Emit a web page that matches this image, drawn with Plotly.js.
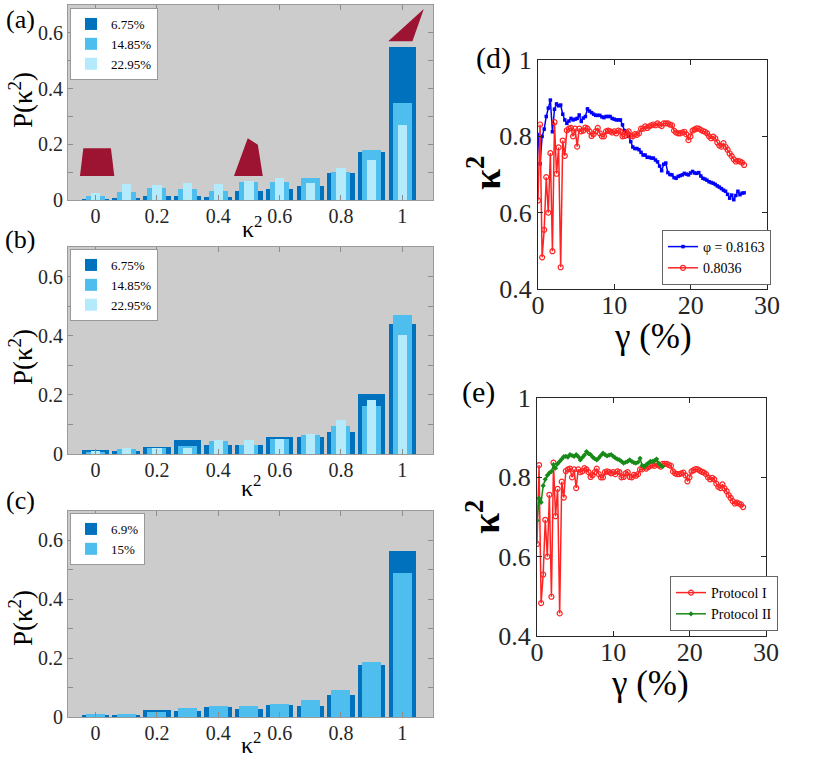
<!DOCTYPE html>
<html>
<head>
<meta charset="utf-8">
<script src="https://cdn.plot.ly/plotly-3.0.1.min.js"></script>
<style>
  html, body { margin: 0; padding: 0; background: #fff; }
  #chart { width: 830px; height: 759px; }
</style>
</head>
<body>
<div id="chart"></div>
<script>
// Histogram bins (kappa^2)
const kappaBins = [0, 0.1, 0.2, 0.3, 0.4, 0.5, 0.6, 0.7, 0.8, 0.9, 1];
const kappaTicks = [0, 0.2, 0.4, 0.6, 0.8, 1];

// Panel (a)
const pA675 = [0.004, 0.008, 0.016, 0.014, 0.012, 0.031, 0.040, 0.050, 0.096, 0.174, 0.548];
const pA1485 = [0.016, 0.029, 0.044, 0.038, 0.032, 0.064, 0.066, 0.079, 0.101, 0.178, 0.348];
const pA2295 = [0.026, 0.056, 0.054, 0.061, 0.056, 0.068, 0.080, 0.061, 0.116, 0.144, 0.270];

// Panel (b)
const pB675 = [0.013, 0.009, 0.023, 0.047, 0.032, 0.032, 0.057, 0.057, 0.075, 0.203, 0.441];
const pB1485 = [0.006, 0.016, 0.019, 0.027, 0.044, 0.032, 0.050, 0.064, 0.096, 0.164, 0.469];
const pB2295 = [0.009, 0.020, 0.020, 0.019, 0.047, 0.047, 0.050, 0.067, 0.114, 0.184, 0.404];

// Panel (c)
const pC69 = [0.008, 0.008, 0.023, 0.019, 0.034, 0.027, 0.040, 0.037, 0.076, 0.178, 0.563];
const pC15 = [0.009, 0.011, 0.017, 0.031, 0.037, 0.037, 0.045, 0.059, 0.092, 0.186, 0.491];

// Strain gamma (%) for panels (d) and (e)
const gamma = [0, 0.27, 0.54, 0.81, 1.08, 1.35, 1.62, 1.89, 2.16, 2.43, 2.7, 2.97, 3.24, 3.51, 3.78,
  4.05, 4.32, 4.59, 4.86, 5.13, 5.4, 5.67, 5.94, 6.21, 6.48, 6.75, 7.02, 7.29, 7.56, 7.83, 8.1,
  8.37, 8.64, 8.91, 9.18, 9.45, 9.72, 9.99, 10.26, 10.53, 10.8, 11.07, 11.34, 11.61, 11.88, 12.15,
  12.42, 12.69, 12.96, 13.23, 13.5, 13.77, 14.04, 14.31, 14.58, 14.85, 15.12, 15.39, 15.66, 15.93,
  16.2, 16.47, 16.74, 17.01, 17.28, 17.55, 17.82, 18.09, 18.36, 18.63, 18.9, 19.17, 19.44, 19.71,
  19.98, 20.25, 20.52, 20.79, 21.06, 21.33, 21.6, 21.87, 22.14, 22.41, 22.68, 22.95, 23.22, 23.49,
  23.76, 24.03, 24.3, 24.57, 24.84, 25.11, 25.38, 25.65, 25.92, 26.19, 26.46, 26.73, 27];

// phi = 0.8163 (blue)
const kappaPhi8163 = [0.805, 0.728, 0.800, 0.819, 0.852, 0.874, 0.895, 0.812, 0.871, 0.885, 0.880,
  0.882, 0.858, 0.843, 0.834, 0.840, 0.847, 0.843, 0.845, 0.847, 0.856, 0.839, 0.848, 0.852, 0.872,
  0.866, 0.862, 0.858, 0.855, 0.855, 0.855, 0.851, 0.849, 0.852, 0.852, 0.852, 0.847, 0.845, 0.843,
  0.843, 0.843, 0.830, 0.815, 0.808, 0.800, 0.786, 0.772, 0.768, 0.768, 0.765, 0.758, 0.751, 0.751,
  0.745, 0.745, 0.743, 0.743, 0.738, 0.733, 0.722, 0.710, 0.727, 0.730, 0.705, 0.700, 0.699, 0.692,
  0.690, 0.695, 0.697, 0.699, 0.703, 0.701, 0.699, 0.704, 0.708, 0.704, 0.703, 0.705, 0.696, 0.690,
  0.688, 0.685, 0.681, 0.679, 0.677, 0.674, 0.670, 0.667, 0.663, 0.659, 0.656, 0.648, 0.638, 0.646,
  0.634, 0.645, 0.656, 0.647, 0.651, 0.652];

// phi = 0.8036 / Protocol I (red)
const kappaPhi8036 = [0.632, 0.831, 0.483, 0.555, 0.693, 0.600, 0.756, 0.499, 0.837, 0.702, 0.771,
  0.457, 0.789, 0.749, 0.816, 0.820, 0.822, 0.800, 0.820, 0.773, 0.820, 0.813, 0.815, 0.823, 0.820,
  0.813, 0.801, 0.806, 0.813, 0.822, 0.808, 0.800, 0.800, 0.813, 0.815, 0.813, 0.810, 0.813, 0.808,
  0.815, 0.813, 0.800, 0.801, 0.810, 0.813, 0.801, 0.800, 0.806, 0.804, 0.808, 0.820, 0.820, 0.826,
  0.822, 0.826, 0.829, 0.831, 0.829, 0.834, 0.830, 0.827, 0.834, 0.834, 0.834, 0.831, 0.829, 0.815,
  0.810, 0.808, 0.808, 0.810, 0.812, 0.805, 0.790, 0.800, 0.815, 0.818, 0.821, 0.820, 0.817, 0.814,
  0.812, 0.808, 0.800, 0.795, 0.799, 0.795, 0.784, 0.776, 0.773, 0.782, 0.772, 0.765, 0.755, 0.748,
  0.740, 0.734, 0.736, 0.734, 0.731, 0.725];

// Protocol II (green)
const kappaProtocol2 = [0.691, 0.747, 0.737, 0.779, 0.795, 0.805, 0.811, 0.815, 0.832, 0.823, 0.834,
  0.840, 0.846, 0.852, 0.853, 0.851, 0.857, 0.855, 0.853, 0.857, 0.852, 0.844, 0.850, 0.856, 0.865,
  0.860, 0.857, 0.851, 0.847, 0.844, 0.849, 0.855, 0.861, 0.857, 0.854, 0.856, 0.857, 0.853, 0.849,
  0.846, 0.844, 0.840, 0.836, 0.838, 0.840, 0.844, 0.840, 0.837, 0.836, 0.838, 0.848, 0.830, 0.827,
  0.832, 0.836, 0.840, 0.840, 0.842, 0.846, 0.836, 0.830, 0.827];

// Red marker shapes drawn over panel (a)
const flagX = [[-0.040, 0.050, 0.061, -0.051], [0.496, 0.529, 0.545, 0.451], [0.954, 1.033, 1.070]];
const flagY = [[0.186, 0.186, 0.086, 0.086], [0.222, 0.198, 0.086, 0.086], [0.570, 0.570, 0.686]];

const serif = "'Liberation Serif', 'Times New Roman', serif";
const dark = '#0072BD';
const mid = '#4DBEEE';
const light = '#B3EBFC';
const W = 830;
const H = 759;

// pixel box -> paper domain
function domX(x0, x1) { return [x0 / W, x1 / W]; }
function domY(top, bottom) { return [1 - bottom / H, 1 - top / H]; }

function barTrace(y, name, color, width, axis, legend) {
  return {
    type: 'bar', x: kappaBins, y, name, width,
    marker: { color, line: { width: 0 } },
    xaxis: 'x' + axis, yaxis: 'y' + axis, legend
  };
}

const data = [
  barTrace(pA675, '6.75%', dark, 0.09, '', 'legend'),
  barTrace(pA1485, '14.85%', mid, 0.062, '', 'legend'),
  barTrace(pA2295, '22.95%', light, 0.03, '', 'legend'),
  barTrace(pB675, '6.75%', dark, 0.09, '2', 'legend2'),
  barTrace(pB1485, '14.85%', mid, 0.062, '2', 'legend2'),
  barTrace(pB2295, '22.95%', light, 0.03, '2', 'legend2'),
  barTrace(pC69, '6.9%', dark, 0.09, '3', 'legend3'),
  barTrace(pC15, '15%', mid, 0.062, '3', 'legend3'),
  {
    type: 'scatter', mode: 'lines+markers', x: gamma, y: kappaPhi8163, name: 'φ = 0.8163',
    line: { color: '#0000FF', width: 1.5 }, marker: { symbol: 'square', size: 3.5, color: '#0000FF' },
    xaxis: 'x4', yaxis: 'y4', legend: 'legend4'
  },
  {
    type: 'scatter', mode: 'lines+markers', x: gamma, y: kappaPhi8036, name: '0.8036',
    line: { color: '#FF2424', width: 1.5 }, marker: { symbol: 'circle-open', size: 5, color: '#FF2424', line: { width: 1.2 } },
    xaxis: 'x4', yaxis: 'y4', legend: 'legend4'
  },
  {
    type: 'scatter', mode: 'lines+markers', x: gamma, y: kappaPhi8036, name: 'Protocol I',
    line: { color: '#FF2424', width: 1.5 }, marker: { symbol: 'circle-open', size: 5, color: '#FF2424', line: { width: 1.2 } },
    xaxis: 'x5', yaxis: 'y5', legend: 'legend5'
  },
  {
    type: 'scatter', mode: 'lines+markers', x: gamma.slice(0, kappaProtocol2.length), y: kappaProtocol2, name: 'Protocol II',
    line: { color: '#178A17', width: 1.5 }, marker: { symbol: 'diamond', size: 4, color: '#178A17' },
    xaxis: 'x5', yaxis: 'y5', legend: 'legend5'
  }
];

function histX(domain, anchor) {
  return {
    domain, anchor, range: [-0.09, 1.1], tickvals: kappaTicks, ticktext: ['0', '0.2', '0.4', '0.6', '0.8', '1'],
    ticks: 'inside', ticklen: 5, tickcolor: '#8c8c8c', mirror: 'ticks', showline: true,
    linecolor: '#9a9a9a', linewidth: 1, showgrid: false, zeroline: false, ticklabelstandoff: -2,
    tickfont: { family: serif, size: 20, color: '#262626' }
  };
}
function histY(domain, anchor) {
  return {
    domain, anchor, range: [0, 0.7], tick0: 0, dtick: 0.2,
    ticks: 'inside', ticklen: 5, tickcolor: '#8c8c8c', mirror: 'ticks', showline: true,
    linecolor: '#9a9a9a', linewidth: 1, showgrid: false, zeroline: false,
    minor: { dtick: 0.1, ticks: 'inside', ticklen: 5, tickcolor: '#8c8c8c', showgrid: false },
    tickfont: { family: serif, size: 20, color: '#262626' }
  };
}
function lineX(domain, anchor) {
  return {
    domain, anchor, range: [0, 30], dtick: 10, ticks: 'inside', ticklen: 5, tickcolor: '#262626',
    mirror: 'ticks', showline: true, linecolor: '#262626', linewidth: 1, showgrid: false, zeroline: false,
    ticklabelstandoff: -7, tickfont: { family: serif, size: 26, color: '#262626' }
  };
}
function lineY(domain, anchor) {
  return {
    domain, anchor, range: [0.4, 1], dtick: 0.2, tick0: 0.4, ticks: 'inside', ticklen: 5, tickcolor: '#262626',
    mirror: 'ticks', showline: true, linecolor: '#262626', linewidth: 1, showgrid: false, zeroline: false,
    tickfont: { family: serif, size: 26, color: '#262626' }
  };
}

// legends placed by their top-left (histograms) or bottom-left (line panels) corner
function legendAt(px, py, size, border, anchorY) {
  return {
    x: px / W, y: 1 - py / H, xanchor: 'left', yanchor: anchorY,
    bgcolor: '#ffffff', bordercolor: border, borderwidth: 1,
    font: { family: serif, size, color: '#000' }, itemwidth: 30, tracegroupgap: 0
  };
}

function note(text, px, py, size, extra) {
  return Object.assign({
    text, x: px / W, y: 1 - py / H, xref: 'paper', yref: 'paper', showarrow: false,
    xanchor: 'center', yanchor: 'middle', font: { family: serif, size, color: '#000' }
  }, extra || {});
}

// gray plot background for the histogram panels
const shapes = ['', '2', '3'].map(a => ({
  type: 'rect', xref: 'x' + a + ' domain', yref: 'y' + a + ' domain', x0: 0, x1: 1, y0: 0, y1: 1,
  fillcolor: '#CCCCCC', line: { width: 0 }, layer: 'below'
}));
flagX.forEach((xs, i) => {
  const path = xs.map((x, j) => (j ? 'L' : 'M') + x + ',' + flagY[i][j]).join(' ') + ' Z';
  shapes.push({ type: 'path', xref: 'x', yref: 'y', path, fillcolor: '#9C1432', line: { width: 0 } });
});

const layout = {
  width: W, height: H, margin: { l: 0, r: 0, t: 0, b: 0 },
  paper_bgcolor: '#ffffff', plot_bgcolor: '#ffffff',
  barmode: 'overlay', bargap: 0,
  xaxis: histX(domX(68, 433), 'y'), yaxis: histY(domY(5, 200), 'x'),
  xaxis2: histX(domX(68, 433), 'y2'), yaxis2: histY(domY(247, 454), 'x2'),
  xaxis3: histX(domX(68, 433), 'y3'), yaxis3: histY(domY(511, 717), 'x3'),
  xaxis4: lineX(domX(538, 767), 'y4'), yaxis4: lineY(domY(60, 289), 'x4'),
  xaxis5: lineX(domX(537, 766), 'y5'), yaxis5: lineY(domY(398, 636), 'x5'),
  legend: legendAt(70, 8, 13, '#999', 'top'),
  legend2: legendAt(70, 249, 13, '#999', 'top'),
  legend3: legendAt(70, 513, 13, '#999', 'top'),
  legend4: legendAt(662, 285, 14, '#666', 'bottom'),
  legend5: legendAt(670, 631, 14, '#666', 'bottom'),
  shapes,
  annotations: [
    note('(a)', 20, 19, 26), note('(b)', 20, 240, 26), note('(c)', 20, 500, 26),
    note('(d)', 493, 58, 30), note('(e)', 478, 392, 30),
    note('P(κ<sup>2</sup>)', 21, 100, 27, { textangle: -90 }),
    note('P(κ<sup>2</sup>)', 21, 357, 27, { textangle: -90 }),
    note('P(κ<sup>2</sup>)', 21, 618, 27, { textangle: -90 }),
    note('κ<sup>2</sup>', 252, 227, 24), note('κ<sup>2</sup>', 251, 486, 24), note('κ<sup>2</sup>', 251, 743, 24),
    note('<b>κ<sup>2</sup></b>', 484, 173, 38, { textangle: -90 }),
    note('<b>κ<sup>2</sup></b>', 483, 517, 38, { textangle: -90 }),
    note('γ (%)', 653, 337, 35), note('γ (%)', 650, 683, 35)
  ]
};

Plotly.newPlot('chart', data, layout, { staticPlot: true });
</script>
</body>
</html>
